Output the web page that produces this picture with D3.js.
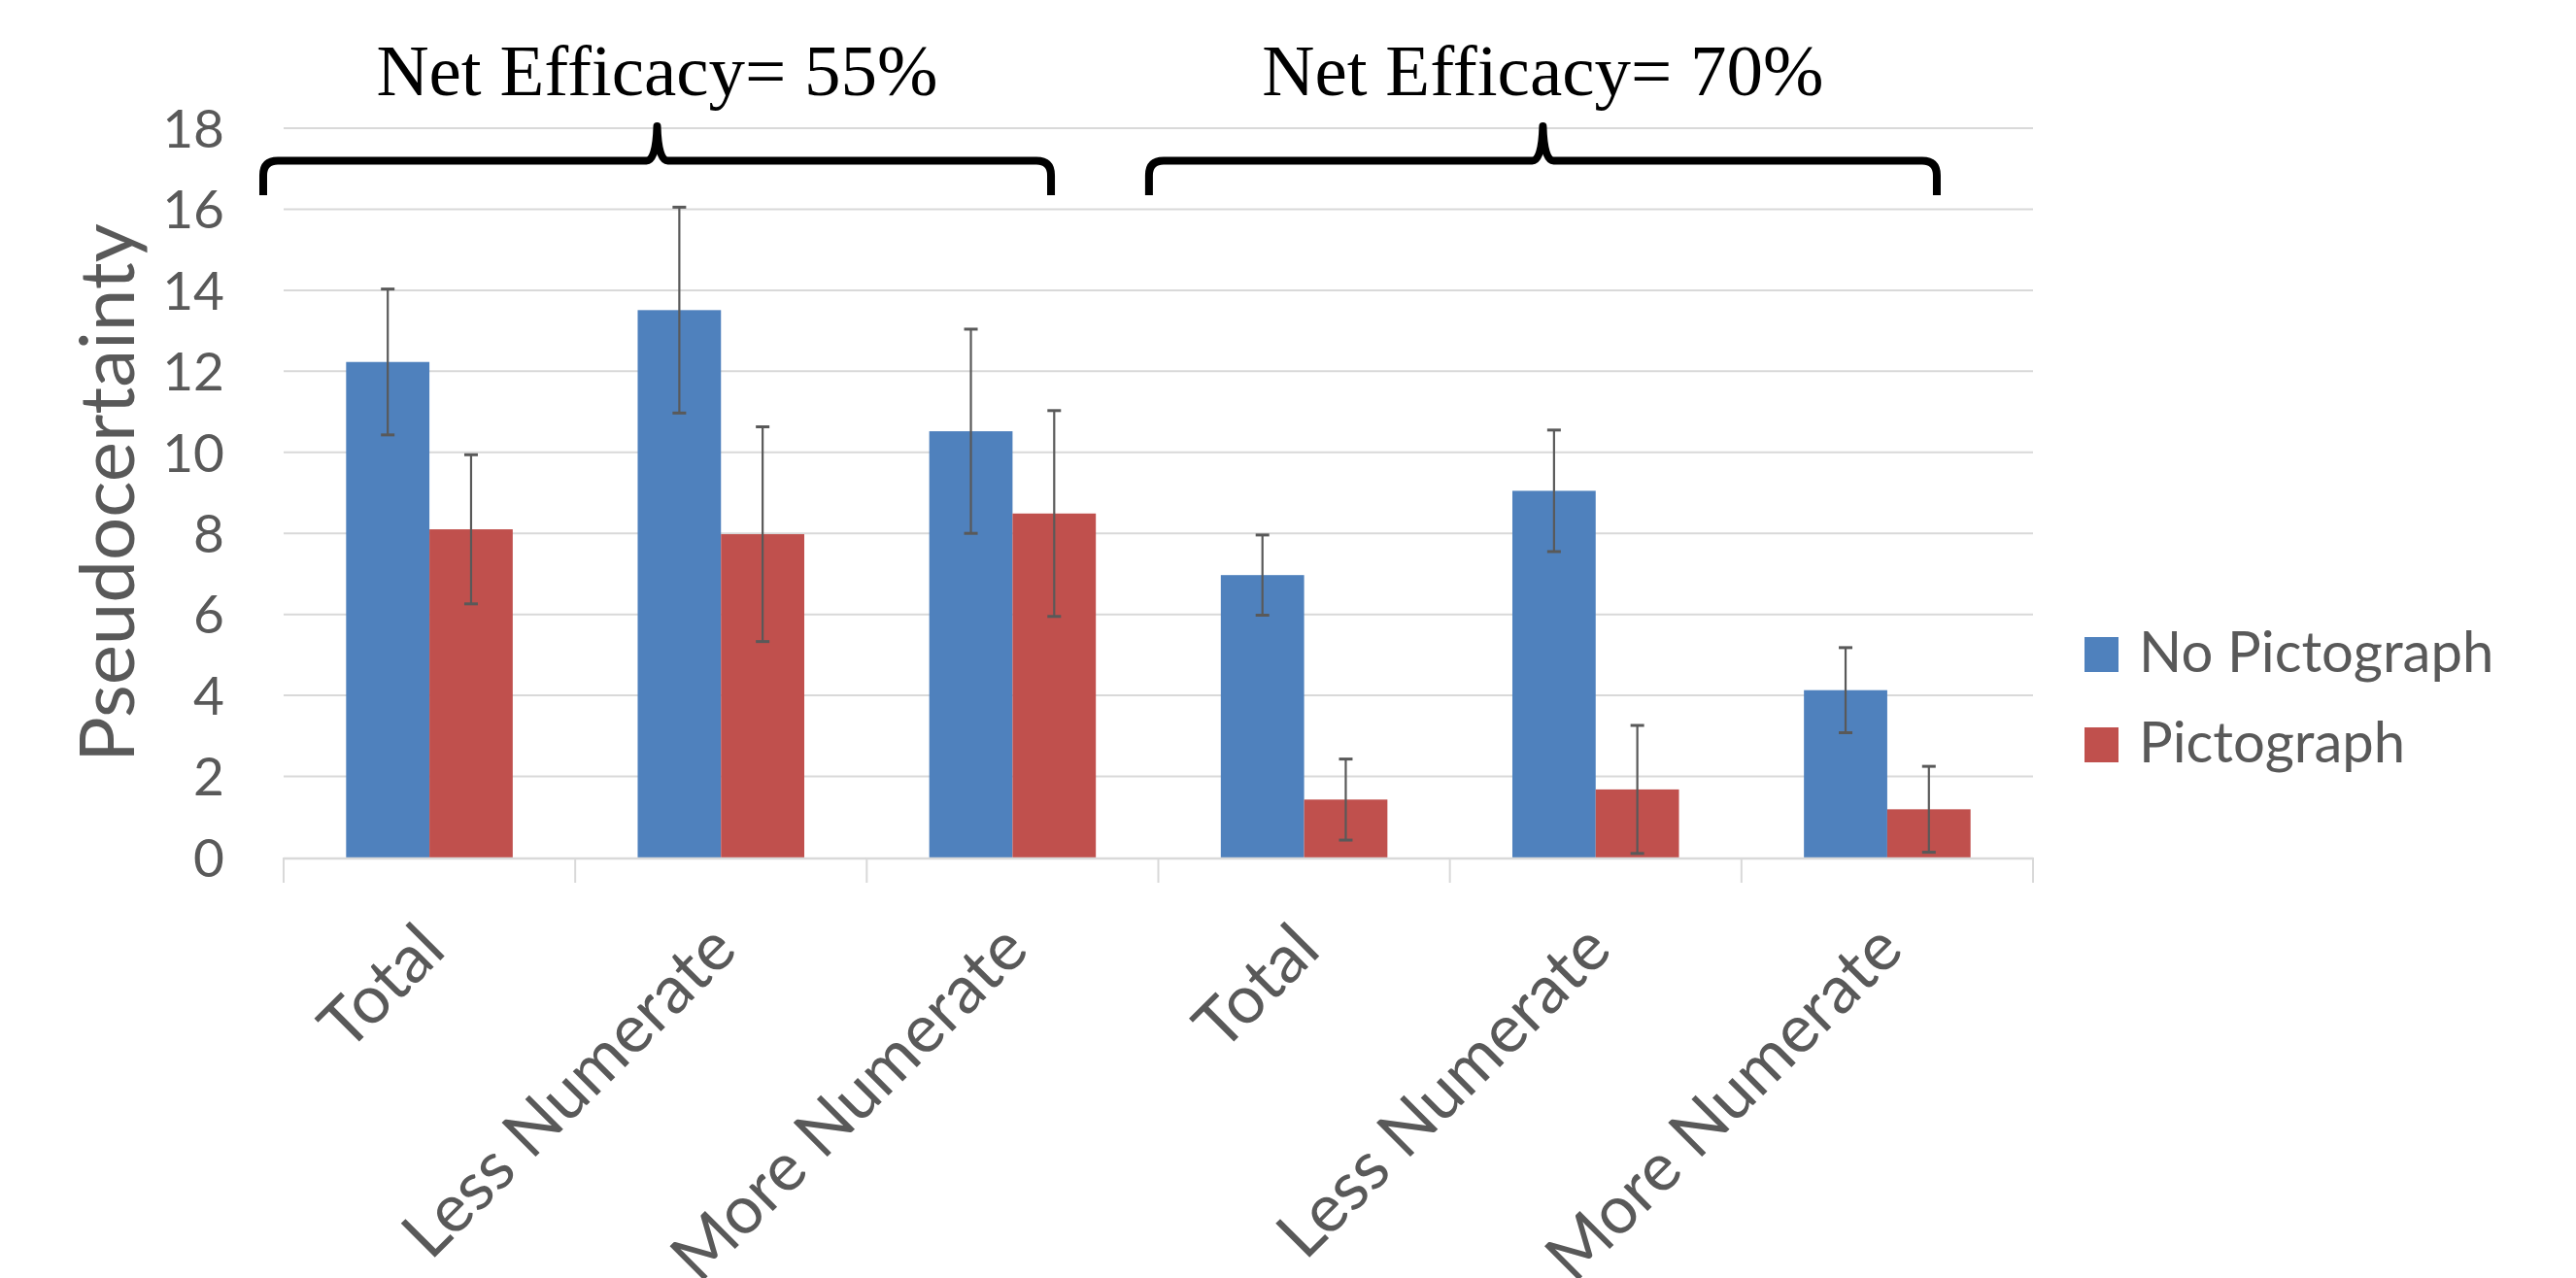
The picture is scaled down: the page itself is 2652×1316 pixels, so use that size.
<!DOCTYPE html>
<html>
<head>
<meta charset="utf-8">
<script src="https://cdn.jsdelivr.net/npm/d3@7"></script>
<style>
  body { margin: 0; background: #fff; }
  text { font-family: Lato, "Noto Sans", sans-serif; fill: #595959; }
</style>
</head>
<body>
<svg id="chart" width="2652" height="1316"></svg>
<script>
// data
const categories = ['Total', 'Less Numerate', 'More Numerate', 'Total', 'Less Numerate', 'More Numerate'];
const seriesNames = ['No Pictograph', 'Pictograph'];
const noPictograph = [12.23, 13.51, 10.52, 6.97, 9.05, 4.13];
const noPictographErr = [1.80, 2.54, 2.52, 0.99, 1.50, 1.05];
const pictograph = [8.10, 7.98, 8.49, 1.43, 1.68, 1.19];
const pictographErr = [1.84, 2.65, 2.54, 1.00, 1.58, 1.06];
const yTicks = [0, 2, 4, 6, 8, 10, 12, 14, 16, 18];
const groupLabels = ['Net Efficacy= 55%', 'Net Efficacy= 70%'];

const colors = ['#4F81BD', '#C0504D'];

function main() {
  let svg = d3.select('#chart');
  svg.append('rect').attr('width', 2652).attr('height', 1316).attr('fill', '#fff');

  let left = 292, right = 2093, top = 132, bottom = 883;

  let x = d3.scaleBand().domain(d3.range(categories.length)).range([left, right]).padding(0);
  let xs = d3.scaleBand().domain(seriesNames).range([0, x.bandwidth()])
    .paddingInner(0).paddingOuter(0.75);
  let y = d3.scaleLinear().domain([0, 18]).range([bottom, top]);

  // gridlines
  svg.append('g').selectAll('line').data(yTicks.filter(d => d > 0)).join('line')
    .attr('x1', left).attr('x2', right)
    .attr('y1', d => y(d)).attr('y2', d => y(d))
    .attr('stroke', '#D9D9D9').attr('stroke-width', 2);

  // y tick labels
  svg.append('g').selectAll('text').data(yTicks).join('text')
    .attr('x', left - 61).attr('y', d => y(d)).attr('dy', '0.36em')
    .attr('text-anchor', 'end').attr('font-size', 55)
    .text(d => d);

  // y title
  svg.append('text')
    .attr('transform', `translate(138,${(top + bottom) / 2}) rotate(-90)`)
    .attr('text-anchor', 'middle').attr('font-size', 78)
    .text('Pseudocertainty');

  // bars
  let rows = categories.map((c, i) => [
    {i: i, s: seriesNames[0], v: noPictograph[i], e: noPictographErr[i], c: colors[0]},
    {i: i, s: seriesNames[1], v: pictograph[i], e: pictographErr[i], c: colors[1]}
  ]).flat();

  svg.append('g').selectAll('rect').data(rows).join('rect')
    .attr('x', d => x(d.i) + xs(d.s))
    .attr('width', xs.bandwidth())
    .attr('y', d => y(d.v))
    .attr('height', d => y(0) - y(d.v))
    .attr('fill', d => d.c);

  // x axis line + ticks
  let axis = svg.append('g');
  axis.append('line').attr('x1', left).attr('x2', right)
    .attr('y1', y(0) + 1).attr('y2', y(0) + 1)
    .attr('stroke', '#D9D9D9').attr('stroke-width', 2.5);
  axis.selectAll('line.tick').data(d3.range(categories.length + 1)).join('line')
    .attr('class', 'tick')
    .attr('x1', d => left + d * x.step()).attr('x2', d => left + d * x.step())
    .attr('y1', y(0)).attr('y2', y(0) + 26)
    .attr('stroke', '#D9D9D9').attr('stroke-width', 2);

  // error bars
  let eb = svg.append('g').attr('stroke', '#595959').attr('stroke-width', 2.2);
  rows.forEach(function(d) {
    let cx = x(d.i) + xs(d.s) + xs.bandwidth() / 2;
    eb.append('line').attr('x1', cx).attr('x2', cx)
      .attr('y1', y(d.v + d.e)).attr('y2', y(d.v - d.e));
    [d.v + d.e, d.v - d.e].forEach(function(t) {
      eb.append('line').attr('x1', cx - 7).attr('x2', cx + 7)
        .attr('y1', y(t)).attr('y2', y(t)).attr('stroke-width', 3);
    });
  });

  // x labels
  svg.append('g').selectAll('text').data(categories).join('text')
    .attr('transform', (d, i) => `translate(${x(i) + x.bandwidth() / 2 + 2},${y(0) + 81}) rotate(-45)`)
    .attr('text-anchor', 'end').attr('dy', '0.35em').attr('font-size', 69)
    .text(d => d);

  // legend
  let lg = svg.append('g');
  seriesNames.forEach(function(s, i) {
    lg.append('rect').attr('x', 2146).attr('y', 656 + i * 93)
      .attr('width', 35).attr('height', 36).attr('fill', colors[i]);
    lg.append('text').attr('x', 2202).attr('y', 692 + i * 93)
      .attr('font-size', 58).text(s);
  });

  // braces + group labels
  let spans = [[-0.07, 2.632], [2.968, 5.67]];
  spans.forEach(function(sp, i) {
    let x0 = left + sp[0] * x.step(), x1 = left + sp[1] * x.step();
    let tip = (x0 + x1) / 2, by = 165.5, r = 15;
    let p = d3.path();
    p.moveTo(x0, 201);
    p.lineTo(x0, by + r);
    p.quadraticCurveTo(x0, by, x0 + r, by);
    p.lineTo(tip - 11, by);
    p.quadraticCurveTo(tip - 1, by, tip, 130);
    p.quadraticCurveTo(tip + 1, by, tip + 11, by);
    p.lineTo(x1 - r, by);
    p.quadraticCurveTo(x1, by, x1, by + r);
    p.lineTo(x1, 201);
    svg.append('path').attr('d', p.toString())
      .attr('fill', 'none').attr('stroke', '#000').attr('stroke-width', 8)
      .attr('stroke-linejoin', 'round');
    svg.append('text').attr('x', tip).attr('y', 98)
      .attr('text-anchor', 'middle').attr('font-size', 75)
      .style('font-family', '"Liberation Serif", "Times New Roman", serif')
      .style('fill', '#000')
      .text(groupLabels[i]);
  });
}

main();
</script>
</body>
</html>
